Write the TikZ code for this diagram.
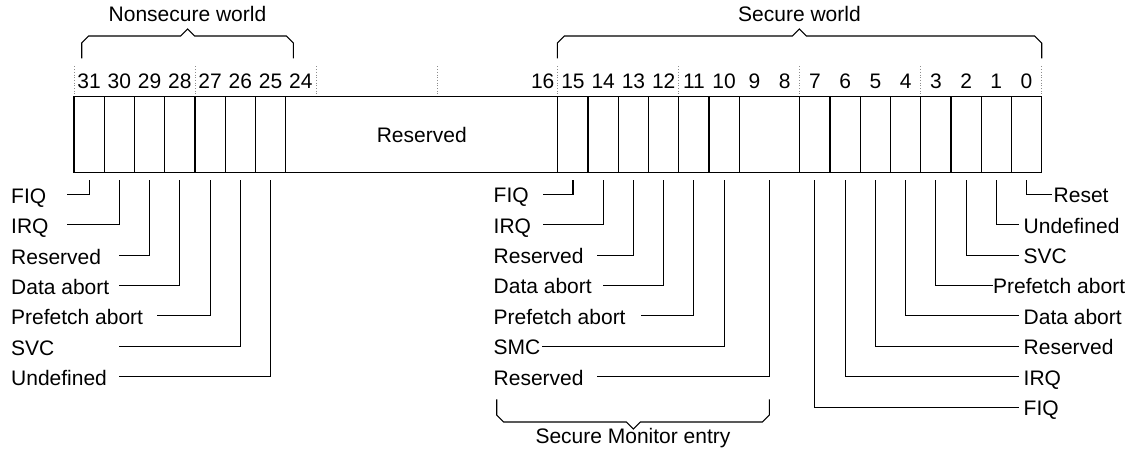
\documentclass[tikz,border=0pt]{standalone}
\usepackage{fontspec}
\setmainfont{Liberation Sans}
\begin{document}
\begin{tikzpicture}[x=1pt,y=-1pt,
  lbl/.style={font=\fontsize{21}{25}\selectfont, inner sep=0pt},
  cell/.style={draw, line width=1.3pt, minimum height=75.6pt, inner sep=0pt, outer sep=0pt, anchor=north west},
  lead/.style={line width=1.1pt},
  guide/.style={black!45, dotted, line width=0.7pt},
  brace/.style={line width=1.1pt, line join=miter}]
\useasboundingbox (0,0) rectangle (1141,457);
\def\W{30.24}
\def\X{74}
\def\T{96.7}
% cells
\foreach \b in {31,...,25,15,14,13,12,11,10,7,6,5,4,3,2,1,0}
  \node[cell, minimum width=\W pt] (b\b) at ({\X+(31-\b)*\W},\T) {};
\node[cell, minimum width=9*\W pt, lbl] (b24) at ({\X+7*\W},\T) {Reserved};
\node[cell, minimum width=2*\W pt] (b98) at ({\X+22*\W},\T) {};
% bit numbers
\foreach \b in {31,...,24,16,15,...,0}
  \node[lbl, anchor=base] (n\b) at ({\X+(31.5-\b)*\W},88.3) {\b};
% dotted guides
\foreach \p in {0,4,...,32}
  \draw[guide] ({\X+\p*\W},66.5) -- ({\X+\p*\W},95.5);
% braces
\draw[brace] (81.7,58.3) -- (81.7,43) -- (88.7,36) -- (180.7,36) -- (187.7,29) -- (194.7,36) -- (286.3,36) -- (293.3,43) -- (293.3,58.3);
\node[lbl, anchor=base] (ns) at (187.5,21.3) {Nonsecure world};
\draw[brace] (557.3,58.3) -- (557.3,43) -- (564.3,36) -- (792.3,36) -- (799.3,29) -- (806.3,36) -- (1034.7,36) -- (1041.7,43) -- (1041.7,58.3);
\node[lbl, anchor=base] (sw) at (799.5,21.3) {Secure world};
\draw[brace] (496.7,399.3) -- (496.7,415) -- (503.7,422) -- (626.3,422) -- (633.3,429) -- (640.3,422) -- (762.3,422) -- (769.3,415) -- (769.3,399.3);
\node[lbl, anchor=base] (sme) at (633,443.5) {Secure Monitor entry};
% left group
\foreach \b/\r/\s/\t in {31/0/66.7/FIQ, 30/1/66.7/IRQ, 29/2/119/Reserved, 28/3/119/Data abort, 27/4/157/Prefetch abort, 26/5/119/SVC, 25/6/119/Undefined}{
  \node[lbl, anchor=base west] (L\b) at (11,{194.3+\r*30.4+9}) {\t};
  \coordinate (E\b) at (\s,{194.3+\r*30.4});
  \draw[lead] ([yshift=-8pt]b\b.south) |- (E\b);
}
% middle group
\foreach \b/\r/\s/\t in {15/0/543.3/FIQ, 14/1/543.3/IRQ, 13/2/596.7/Reserved, 12/3/603.3/Data abort, 11/4/641/Prefetch abort, 10/5/541.7/SMC, 98/6/596.7/Reserved}{
  \node[lbl, anchor=base west] (M\b) at (493.5,{194.3+\r*30.4+8.5}) {\t};
  \coordinate (F\b) at (\s,{194.3+\r*30.4});
  \draw[lead] ([yshift=-8pt]b\b.south) |- (F\b);
}
% right group
\foreach \b/\r/\s/\x/\t in {0/0/1051.7/1053.5/Reset, 1/1/1019.3/1023.5/Undefined, 2/2/1019.3/1023.5/SVC, 3/3/993.3/993/Prefetch abort, 4/4/1019.3/1023.5/Data abort, 5/5/1019.3/1023.5/Reserved, 6/6/1019.3/1023.5/IRQ, 7/7/1019.3/1023.5/FIQ}{
  \node[lbl, anchor=base west] (R\b) at (\x,{194.3+\r*30.4+8.5}) {\t};
  \coordinate (G\b) at (\s,{194.3+\r*30.4});
  \draw[lead] ([yshift=-8pt]b\b.south) |- (G\b);
}
\end{tikzpicture}
\end{document}
